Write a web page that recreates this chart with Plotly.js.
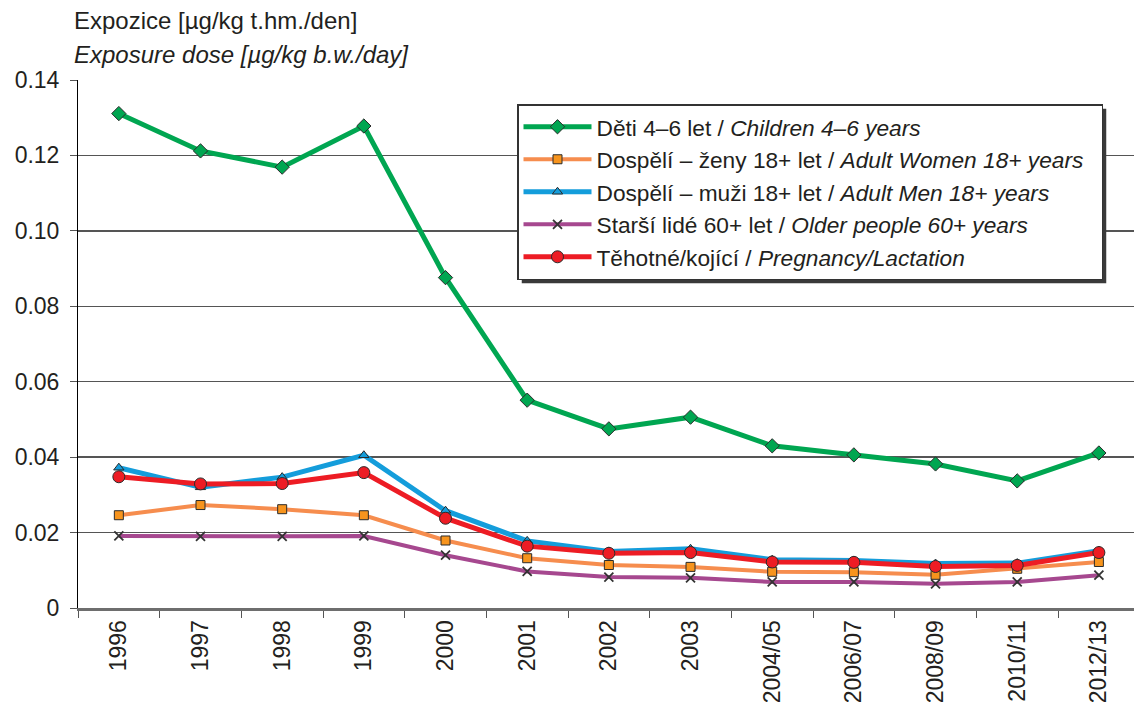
<!DOCTYPE html>
<html><head><meta charset="utf-8">
<script src="https://cdn.plot.ly/plotly-3.0.1.min.js"></script>
<style>html,body{margin:0;padding:0;background:#fff}#chart{width:1134px;height:709px}</style>
</head><body><div id="chart"></div>
<script>
const years = ["1996","1997","1998","1999","2000","2001","2002","2003","2004/05","2006/07","2008/09","2010/11","2012/13"];
const children = [0.1311,0.1212,0.1169,0.1278,0.0876,0.0551,0.0475,0.0506,0.0430,0.0406,0.0382,0.0337,0.0411];
const women = [0.0246,0.0273,0.0262,0.0246,0.0179,0.0132,0.0114,0.0109,0.0096,0.0095,0.0088,0.0104,0.0122];
const men = [0.0372,0.0320,0.0347,0.0405,0.0258,0.0178,0.0150,0.0157,0.0128,0.0126,0.0118,0.0119,0.0152];
const older = [0.0191,0.0190,0.0190,0.0191,0.0140,0.0097,0.0082,0.0080,0.0069,0.0069,0.0064,0.0069,0.0087];
const pregnant = [0.0348,0.0329,0.0330,0.0359,0.0238,0.0164,0.0145,0.0147,0.0122,0.0121,0.0110,0.0113,0.0147];
const yTickVals = [0,0.02,0.04,0.06,0.08,0.10,0.12,0.14];
const yTickText = ["0","0.02","0.04","0.06","0.08","0.10","0.12","0.14"];
const names = [
  "Děti 4–6 let / <i>Children 4–6 years</i>",
  "Dospělí – ženy 18+ let / <i>Adult Women 18+ years</i>&nbsp;&nbsp;",
  "Dospělí – muži 18+ let / <i>Adult Men 18+ years</i>",
  "Starší lidé 60+ let / <i>Older people 60+ years</i>",
  "Těhotné/kojící / <i>Pregnancy/Lactation</i>"
];
const outline = '#2b2b2b';
const traces = [
  {y: children, name: names[0], line:{color:'#00A651', width:5}, marker:{symbol:'diamond', size:11, color:'#00A651', line:{color:outline, width:1}}},
  {y: women, name: names[1], line:{color:'#F68D4E', width:4}, marker:{symbol:'square', size:9, color:'#F7941D', line:{color:outline, width:1}}},
  {y: men, name: names[2], line:{color:'#149DDB', width:5}, marker:{symbol:'triangle-up', size:9, color:'#149DDB', line:{color:outline, width:1}}},
  {y: older, name: names[3], line:{color:'#A6488F', width:4}, marker:{symbol:'x-thin', size:9, color:'#333', line:{color:'#333', width:1.8}}},
  {y: pregnant, name: names[4], line:{color:'#ED1C24', width:5}, marker:{symbol:'circle', size:12, color:'#ED1C24', line:{color:outline, width:1}}}
].map((t,i)=>Object.assign({x: years, type:'scatter', mode:'lines+markers', legendgroup:'g'+i}, t));

const L = 78, T = 80, W = 1134, H = 709, B = 101;
const pw = W - L, ph = H - T - B;
const px = v => (v - L)/pw, py = v => (H - B - v)/ph;

const layout = {
  width: W, height: H,
  margin: {l: L, r: 0, t: T, b: B},
  paper_bgcolor: '#fff', plot_bgcolor: '#fff',
  font: {family: '"Liberation Sans", Arial, sans-serif', color: '#231F20', size: 22},
  showlegend: true,
  legend: {
    x: px(517), y: py(104), xanchor: 'left', yanchor: 'top',
    bgcolor: '#fff', bordercolor: '#333', borderwidth: 1.5,
    font: {size: 22.7}, itemwidth: 68, tracegroupgap: 0, traceorder: 'normal'
  },
  xaxis: {
    type: 'category', range: [-0.5, 12.43],
    showline: true, linecolor: '#6e6e6e', linewidth: 3,
    ticks: 'outside', tickson: 'boundaries', ticklen: 7, tickcolor: '#555', tickwidth: 1,
    tickangle: -90, tickfont: {size: 23}, showgrid: false, fixedrange: true
  },
  yaxis: {
    range: [0, 0.14], tickmode: 'array', tickvals: yTickVals, ticktext: yTickText,
    showline: true, linecolor: '#000', linewidth: 1,
    ticks: 'outside', ticklen: 7, tickcolor: '#555', ticklabelstandoff: 6,
    gridcolor: '#555', gridwidth: 1.3, zeroline: false,
    tickfont: {size: 23}, fixedrange: true
  },
  shapes: [],
  annotations: [
    {xref:'paper', yref:'paper', x: px(72), y: py(21), xanchor:'left', yanchor:'middle', showarrow:false,
     text:'Expozice [µg/kg t.hm./den]', font:{size:24}},
    {xref:'paper', yref:'paper', x: px(72), y: py(55), xanchor:'left', yanchor:'middle', showarrow:false,
     text:'<i>Exposure dose [µg/kg b.w./day]</i>', font:{size:24}}
  ]
};
Plotly.newPlot('chart', traces, layout, {displayModeBar: false, staticPlot: true}).then(gd => {
  // drop shadow behind the legend box, sized from the rendered legend
  const bg = gd.querySelector('.legend .bg');
  if (!bg) return;
  const r = bg.getBoundingClientRect();
  const c = gd.getBoundingClientRect();
  const x0 = r.left - c.left + 4, x1 = r.right - c.left + 4;
  const y0 = r.top - c.top + 4, y1 = r.bottom - c.top + 4;
  Plotly.relayout(gd, {shapes: [{type:'rect', xref:'paper', yref:'paper',
    x0: px(x0), x1: px(x1), y0: py(y1), y1: py(y0),
    fillcolor:'#3a3a3a', line:{width:0}, layer:'above'}]});
});
</script></body></html>
